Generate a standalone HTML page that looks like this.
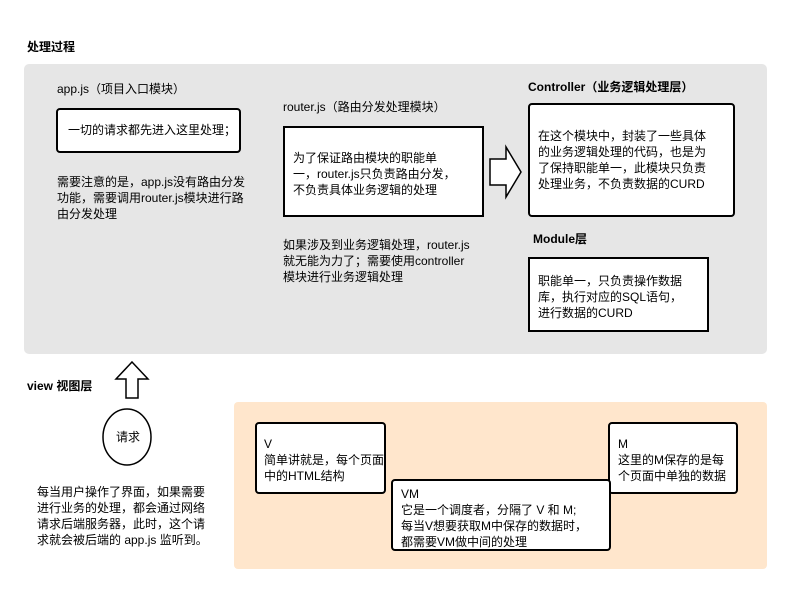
<!DOCTYPE html>
<html><head><meta charset="utf-8"><style>
body{margin:0;width:792px;height:594px;background:#fff;position:relative;overflow:hidden;font-family:"Liberation Sans","Noto Sans CJK SC",sans-serif;font-size:12px;line-height:16px;color:#000}
div{position:absolute;box-sizing:border-box}
.b{font-weight:bold}
.box{background:#fff;border:2px solid #000;border-radius:4px}
.sq{background:#fff;border:2px solid #000}
.t{white-space:nowrap}
</style></head><body>
<div class="t b" style="left:27px;top:39px">处理过程</div>
<div style="left:24px;top:64px;width:743px;height:290px;background:#e6e6e6;border-radius:5px"></div>
<div class="t" style="left:57px;top:81px">app.js（项目入口模块）</div>
<div class="box" style="left:56px;top:108px;width:185px;height:45px"></div>
<div class="t" style="left:68px;top:122px">一切的请求都先进入这里处理；</div>
<div class="t" style="left:57px;top:174px">需要注意的是，app.js没有路由分发<br>功能，需要调用router.js模块进行路<br>由分发处理</div>
<div class="t" style="left:283px;top:99px">router.js（路由分发处理模块）</div>
<div class="sq" style="left:283px;top:126px;width:201px;height:91px"></div>
<div class="t" style="left:293px;top:150px">为了保证路由模块的职能单<br>一，router.js只负责路由分发，<br>不负责具体业务逻辑的处理</div>
<div class="t" style="left:283px;top:237px">如果涉及到业务逻辑处理，router.js<br>就无能为力了；需要使用controller<br>模块进行业务逻辑处理</div>
<svg style="position:absolute;left:488px;top:144px" width="36" height="56"><polygon points="2,15 18,15 18,3 33,28 18,53 18,41 2,41" fill="#fff" stroke="#000" stroke-width="1.5"/></svg>
<div class="t b" style="left:528px;top:79px">Controller（业务逻辑处理层）</div>
<div class="box" style="left:528px;top:103px;width:207px;height:114px"></div>
<div class="t" style="left:538px;top:128px">在这个模块中，封装了一些具体<br>的业务逻辑处理的代码，也是为<br>了保持职能单一，此模块只负责<br>处理业务，不负责数据的CURD</div>
<div class="t b" style="left:533px;top:231px">Module层</div>
<div class="sq" style="left:528px;top:257px;width:181px;height:75px"></div>
<div class="t" style="left:538px;top:273px">职能单一，只负责操作数据<br>库，执行对应的SQL语句，<br>进行数据的CURD</div>
<div class="t b" style="left:27px;top:378px">view 视图层</div>
<svg style="position:absolute;left:114px;top:360px" width="38" height="40"><polygon points="18,2 34,19 24,19 24,38 12,38 12,19 2,19" fill="#fff" stroke="#000" stroke-width="1.5"/></svg>
<svg style="position:absolute;left:100px;top:407px" width="56" height="62"><ellipse cx="27" cy="30" rx="24" ry="28" fill="#fff" stroke="#000" stroke-width="1.5"/></svg>
<div class="t" style="left:116px;top:429px">请求</div>
<div class="t" style="left:37px;top:484px">每当用户操作了界面，如果需要<br>进行业务的处理，都会通过网络<br>请求后端服务器，此时，这个请<br>求就会被后端的 app.js 监听到。</div>
<div style="left:234px;top:402px;width:533px;height:167px;background:#ffe6cc;border-radius:4px"></div>
<div class="box" style="left:255px;top:422px;width:131px;height:72px"></div>
<div class="t" style="left:264px;top:436px">V<br>简单讲就是，每个页面<br>中的HTML结构</div>
<div class="box" style="left:608px;top:422px;width:130px;height:72px"></div>
<div class="t" style="left:618px;top:436px">M<br>这里的M保存的是每<br>个页面中单独的数据</div>
<div class="box" style="left:391px;top:479px;width:220px;height:72px"></div>
<div class="t" style="left:401px;top:486px">VM<br>它是一个调度者，分隔了 V 和 M;<br>每当V想要获取M中保存的数据时，<br>都需要VM做中间的处理</div>
</body></html>
